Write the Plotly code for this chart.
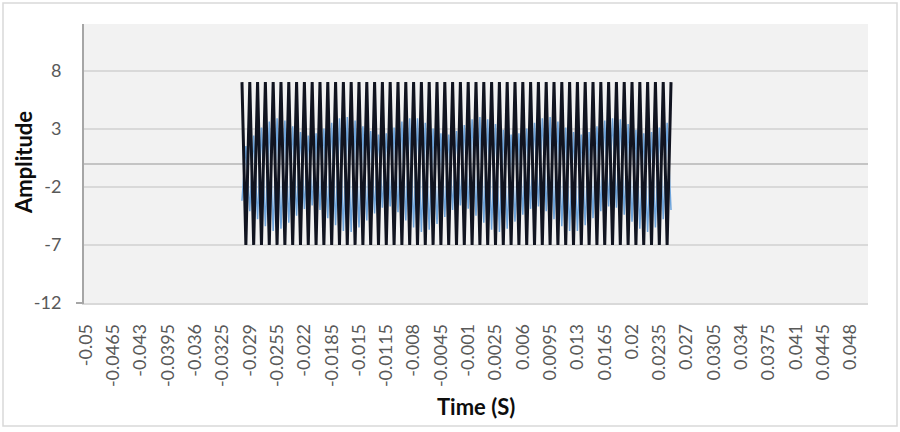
import plotly.graph_objects as go

# ---- data ----
time_start = -0.05
time_step = 0.0005
n_samples = 201
signal_start_index = 40  # t = -0.03

x_tick_labels = ["-0.05", "-0.0465", "-0.043", "-0.0395", "-0.036", "-0.0325", "-0.029",
                 "-0.0255", "-0.022", "-0.0185", "-0.015", "-0.0115", "-0.008", "-0.0045",
                 "-0.001", "0.0025", "0.006", "0.0095", "0.013", "0.0165", "0.02", "0.0235",
                 "0.027", "0.0305", "0.034", "0.0375", "0.041", "0.0445", "0.048"]
y_tick_values = [-12, -7, -2, 3, 8]

black_signal = [7, -7, 7, -7, 7, -7, 7, -7, 7, -7, 7, -7, 7, -7, 7, -7, 7, -7, 7, -7,
                7, -7, 7, -7, 7, -7, 7, -7, 7, -7, 7, -7, 7, -7, 7, -7, 7, -7, 7, -7,
                7, -7, 7, -7, 7, -7, 7, -7, 7, -7, 7, -7, 7, -7, 7, -7, 7, -7, 7, -7,
                7, -7, 7, -7, 7, -7, 7, -7, 7, -7, 7, -7, 7, -7, 7, -7, 7, -7, 7, -7,
                7, -7, 7, -7, 7, -7, 7, -7, 7, -7, 7, -7, 7, -7, 7, -7, 7, -7, 7, -7,
                7, -7, 7, -7, 7, -7, 7, -7, 7, -7, 7]

blue_signal = [-3.2, 1.5, -4.1, 2.4, -4.8, 3.1, -5.4, 3.6, -5.8, 3.9, -5.6, 3.7, -5.1, 3.2, -4.5, 2.7, -3.9, 2.4, -3.6, 2.6,
               -4.0, 3.0, -4.7, 3.5, -5.3, 3.9, -5.8, 4.0, -5.9, 3.7, -5.5, 3.2, -4.9, 2.8, -4.3, 2.5, -3.8, 2.6, -3.7, 3.1,
               -4.2, 3.6, -4.9, 3.9, -5.5, 3.9, -5.9, 3.5, -5.7, 3.0, -5.2, 2.6, -4.6, 2.5, -4.0, 2.8, -3.6, 3.3, -3.9, 3.8,
               -4.5, 4.0, -5.1, 3.8, -5.7, 3.4, -5.9, 2.9, -5.6, 2.5, -5.0, 2.6, -4.4, 3.0, -3.9, 3.5, -3.7, 3.9, -4.1, 4.0,
               -4.8, 3.6, -5.4, 3.1, -5.8, 2.7, -5.8, 2.5, -5.3, 2.7, -4.7, 3.2, -4.1, 3.7, -3.7, 3.9, -3.8, 3.8, -4.4, 3.4,
               -5.0, 2.9, -5.6, 2.6, -5.9, 2.7, -5.5, 3.1, -4.8, 3.5, -4.0]

# ---- build series on the time grid ----
times = [round(time_start + i * time_step, 4) for i in range(n_samples)]


def place(values):
    out = [None] * n_samples
    for k, v in enumerate(values):
        out[signal_start_index + k] = v
    return out


blue_y = place(blue_signal)
black_y = place(black_signal)

font_family = "Lato, 'Open Sans', sans-serif"

fig = go.Figure()
fig.add_trace(go.Scatter(x=times, y=blue_y, mode="lines",
                         line=dict(color="#6fa5dc", width=1.5), connectgaps=False,
                         showlegend=False, hoverinfo="skip"))
fig.add_trace(go.Scatter(x=times, y=black_y, mode="lines",
                         line=dict(color="#111420", width=3), connectgaps=False,
                         showlegend=False, hoverinfo="skip"))

W, H = 900, 432
ml, mr, mt, mb = 84, 32, 24, 129
pw, ph = W - ml - mr, H - mt - mb

fig.update_layout(
    width=W, height=H,
    margin=dict(l=ml, r=mr, t=mt, b=mb, autoexpand=False),
    paper_bgcolor="white",
    plot_bgcolor="#f2f2f2",
    font=dict(family=font_family, color="#595959"),
)

fig.update_xaxes(
    range=[time_start - time_step / 2, time_start + (n_samples - 0.5) * time_step],
    tickvals=[float(s) for s in x_tick_labels],
    ticktext=x_tick_labels,
    tickangle=-90,
    tickfont=dict(size=18, color="#595959", family=font_family),
    ticklabelstandoff=12,
    showgrid=False,
    zeroline=False,
    showline=True, linecolor="#d9d9d9", linewidth=1.5,
    ticks="",
    automargin=False,
)

fig.update_yaxes(
    range=[-12, 12],
    tickvals=y_tick_values,
    ticktext=[str(v) for v in y_tick_values],
    tickfont=dict(size=18, color="#595959", family=font_family),
    ticklabelstandoff=17,
    showgrid=True, gridcolor="#d9d9d9", gridwidth=1.5,
    zeroline=True, zerolinecolor="#c4c4c4", zerolinewidth=1.5,
    showline=True, linecolor="#a6a6a6", linewidth=2,
    ticks="",
    automargin=False,
)

# axis titles
fig.add_annotation(text="<b>Amplitude</b>", xref="paper", yref="paper",
                   x=(23 - ml) / pw, y=(H - mb - 163) / ph, showarrow=False,
                   textangle=-90, font=dict(size=22, color="#0d0d0d", family=font_family),
                   xanchor="center", yanchor="middle")
fig.add_annotation(text="<b>Time (S)</b>", xref="paper", yref="paper",
                   x=(476 - ml) / pw, y=(H - mb - 406) / ph, showarrow=False,
                   font=dict(size=22, color="#0d0d0d", family=font_family),
                   xanchor="center", yanchor="middle")

# outer chart border
fig.add_shape(type="rect", xref="paper", yref="paper",
              x0=(3 - ml) / pw, x1=(897 - ml) / pw,
              y0=(H - mb - 426) / ph, y1=(H - mb - 3) / ph,
              line=dict(color="#d9d9d9", width=1.5), fillcolor="rgba(0,0,0,0)", layer="below")

# small tick at the bottom of the value axis
fig.add_shape(type="line", xref="paper", yref="paper",
              x0=-8 / pw, x1=0, y0=0, y1=0,
              line=dict(color="#a6a6a6", width=2))

fig.write_html(
    "out.html",
    config={"displayModeBar": False},
    post_script="document.body.style.margin='0';document.body.style.overflow='hidden';",
)
